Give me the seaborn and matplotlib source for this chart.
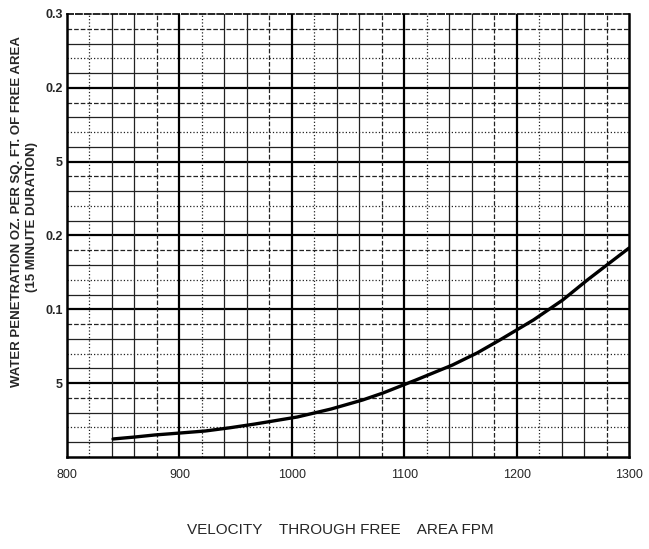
import numpy as np
import pandas as pd
import matplotlib
matplotlib.use("Agg")
import matplotlib.pyplot as plt
import seaborn as sns

# velocity through free area (FPM) vs water penetration (oz per sq ft)
velocity = [841, 860, 878, 900, 923, 945, 967, 1005, 1035, 1063, 1081, 1110,
            1143, 1165, 1185, 1215, 1241, 1263, 1282, 1300]
penetration = [0.0122, 0.0135, 0.0149, 0.0162, 0.0176, 0.0198, 0.0223, 0.0271,
               0.0325, 0.0386, 0.0433, 0.0520, 0.0623, 0.0705, 0.0792, 0.0928,
               0.1063, 0.1199, 0.1310, 0.1415]

x_ticks = [800, 900, 1000, 1100, 1200, 1300]
y_ticks = [0.05, 0.10, 0.15, 0.20, 0.25, 0.30]
# labels as printed on the original (scanned) chart
y_tick_labels = ["5", "0.1", "0.2", "5", "0.2", "0.3"]

sns.set_style("white")
plt.rcParams['font.family'] = ['Liberation Sans', 'DejaVu Sans']

fig = plt.figure(figsize=(6.49, 5.49), dpi=100)
ax = fig.add_axes([0.1032, 0.1676, 0.866, 0.8069])

# grid: minor every 0.01 / 20 FPM, major every 0.05 / 100 FPM
h_styles = ['-', '-', ':', '-', '--']
for i in range(1, 30):
    yv = i * 0.01
    if i % 5 == 0:
        ax.axhline(yv, color='black', lw=1.6, zorder=1)
    else:
        ax.axhline(yv, color='#222222', lw=0.9, ls=h_styles[i % 5], zorder=1)
v_styles = ['-', ':', '-', '-', '--']
for i in range(1, 25):
    xv = 800 + i * 20
    if i % 5 == 0:
        ax.axvline(xv, color='black', lw=1.6, zorder=1)
    else:
        ax.axvline(xv, color='#222222', lw=0.9, ls=v_styles[i % 5], zorder=1)

df = pd.DataFrame({'velocity': velocity, 'penetration': penetration})
sns.lineplot(data=df, x='velocity', y='penetration', color='black',
             linewidth=2.4, ax=ax, zorder=3)

ax.set_xlim(800, 1300)
ax.set_ylim(0, 0.3)
ax.set_xticks(x_ticks)
ax.set_xticklabels([str(v) for v in x_ticks], fontsize=9)
ax.set_yticks(y_ticks)
ax.set_yticklabels(y_tick_labels, fontsize=9, fontweight='bold')
ax.tick_params(axis='both', length=0)
ax.tick_params(axis='x', pad=9)
ax.tick_params(axis='y', pad=3)

for side in ['left', 'bottom', 'right']:
    ax.spines[side].set_linewidth(1.8)
    ax.spines[side].set_color('black')
ax.spines['top'].set_linewidth(1.2)
ax.spines['top'].set_linestyle('--')
ax.spines['top'].set_color('black')

ax.set_xlabel('')
ax.set_ylabel('')

fig.text(0.026, 0.615, "WATER PENETRATION OZ. PER SQ. FT. OF FREE AREA",
         rotation=90, ha='center', va='center', fontsize=9.5, fontweight='bold')
fig.text(0.050, 0.605, "(15 MINUTE DURATION)",
         rotation=90, ha='center', va='center', fontsize=9.5, fontweight='bold')
fig.text(0.524, 0.035, "VELOCITY    THROUGH FREE    AREA FPM",
         ha='center', va='center', fontsize=11)

fig.savefig('out.png', dpi=100, facecolor='white')
